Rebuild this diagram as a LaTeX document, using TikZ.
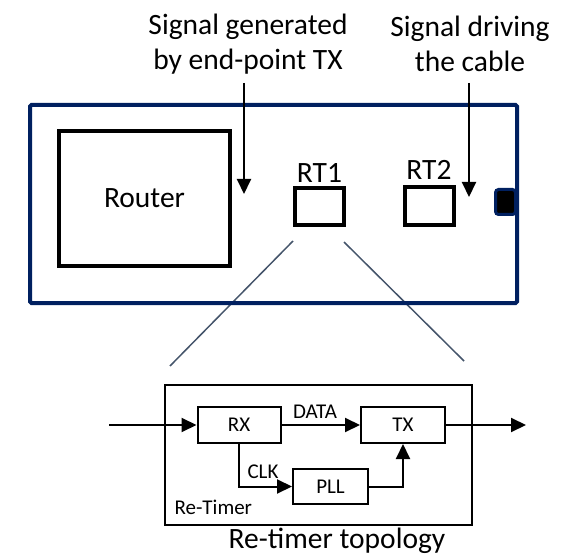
\documentclass[tikz,border=0pt]{standalone}
\usepackage{fontspec}
\setmainfont{Carlito}
\usepackage{tikz}
\usetikzlibrary{arrows.meta}
\definecolor{navy}{HTML}{002060}
\definecolor{slate}{HTML}{44546A}
\newcommand{\bigtext}{\fontsize{29.5}{35}\selectfont}
\newcommand{\smalltext}{\fontsize{21}{25}\selectfont}

\begin{document}
\begin{tikzpicture}[x=1pt,y=-1pt]
\tikzstyle{blk} = [draw, rectangle, line width=3.5pt, inner sep=0pt]
\tikzstyle{sub} = [draw, rectangle, line width=2pt, inner sep=0pt, font=\smalltext]
\tikzstyle{sig} = [-{Triangle[length=15pt,width=14pt]}, line width=2pt]
\tikzstyle{zoomline} = [draw=slate, line width=1.5pt]
\useasboundingbox (0,0) rectangle (570,556);

\node(Gen) at (248,44) [align=center, font=\bigtext] {Signal generated\\by end-point TX};
\node(Drv) at (470,44) [align=center, font=\bigtext] {Signal driving\\the cable};
\coordinate(GenTop) at (244,83);
\coordinate(GenTip) at (244,194);
\coordinate(DrvTop) at (469,83);
\coordinate(DrvTip) at (469,197);

\coordinate(ZLa) at (293,241);
\coordinate(ZLb) at (170,366);
\coordinate(ZRa) at (344,242);
\coordinate(ZRb) at (464,361);
\foreach \from/\to in {ZLa/ZLb, ZRa/ZRb}
\draw [zoomline] (\from) -- (\to);

\node(Port) at (505.5,202) [draw=navy, fill=black, line width=3pt, rounded corners=3pt, minimum width=20pt, minimum height=25pt, inner sep=0pt] {};
\node(Box) at (273.5,204) [draw=navy, line width=4pt, rounded corners=1.5pt, minimum width=487pt, minimum height=198pt, inner sep=0pt] {};
\node(Router) at (144.5,198.5) [blk, minimum width=171pt, minimum height=135pt, font=\bigtext] {Router};
\node(RTa) at (319.5,206.5) [blk, minimum width=49pt, minimum height=37pt] {};
\node(RTb) at (429.5,206) [blk, minimum width=49pt, minimum height=38pt] {};
\node at (319.5,173) [font=\bigtext] {RT1};
\node at (429,170) [font=\bigtext] {RT2};

\foreach \from/\to in {GenTop/GenTip, DrvTop/DrvTip}
\draw [sig] (\from) -- (\to);

\node(Retimer) at (318.5,455) [draw, line width=2pt, minimum width=307pt, minimum height=140pt, inner sep=0pt] {};
\node(RX) at (239,425) [sub, minimum width=83pt, minimum height=36pt] {RX};
\node(TX) at (403,425) [sub, minimum width=84pt, minimum height=36pt] {TX};
\node(PLL) at (330.5,486.5) [sub, minimum width=75pt, minimum height=35pt] {PLL};
\coordinate(In) at (109,425);
\coordinate(Out) at (526,425);

\foreach \from/\to in {In/RX, RX/TX, TX/Out}
\draw [sig] (\from) -- (\to);
\draw [sig] (RX.south) |- (PLL.west);
\draw [sig] (PLL.east) -| (TX.south);

\node at (315,412) [font=\smalltext] {DATA};
\node at (263,472) [font=\smalltext] {CLK};
\node at (171,507) [anchor=west, font=\smalltext] {Re-Timer};
\node at (337,548) [anchor=base, inner sep=0pt, font=\bigtext] {Re-timer topology};

\end{tikzpicture}
\end{document}
